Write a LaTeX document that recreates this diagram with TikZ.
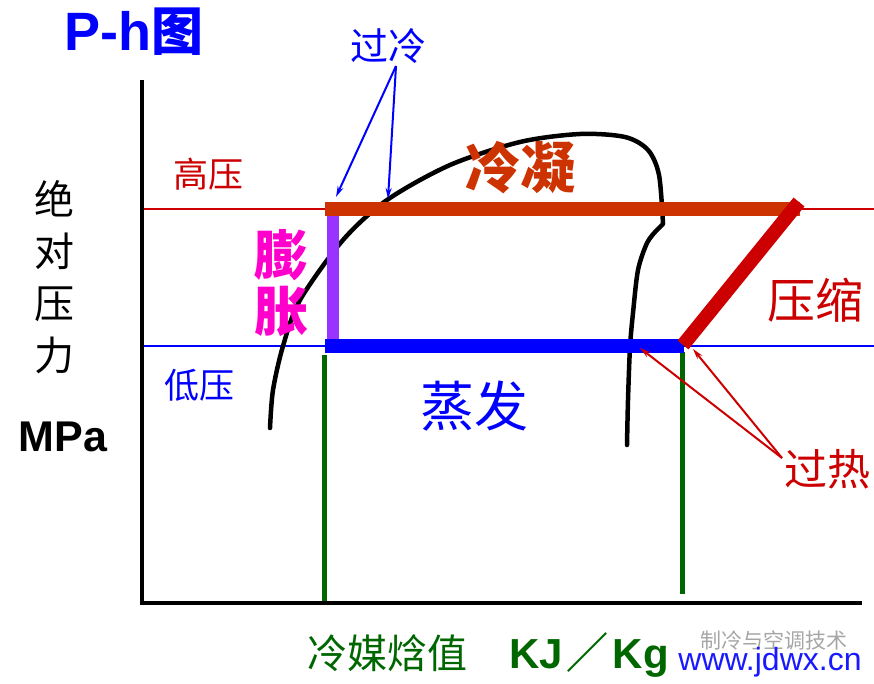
\documentclass[tikz,border=0pt]{standalone}
\usepackage{fontspec}
\setmainfont{Noto Sans CJK SC}
\newfontfamily\lat{Liberation Sans}
\usetikzlibrary{arrows.meta}
\definecolor{hired}{HTML}{CC0000}
\definecolor{condor}{HTML}{CC3300}
\definecolor{expur}{HTML}{9933FF}
\definecolor{expmag}{HTML}{FF00CC}
\definecolor{evblue}{HTML}{0000FF}
\definecolor{enth}{HTML}{006600}
\tikzset{
  axis/.style={line width=4pt},
  pline/.style={line width=2pt},
  bar/.style={line width=14pt},
  dome/.style={line width=4.5pt,line cap=round,line join=round},
  pointer/.style={line width=2pt,-{Stealth[length=11pt,width=6pt]}},
}
\begin{document}
\begin{tikzpicture}[x=1pt,y=-1pt]
\useasboundingbox (0,0) rectangle (874,684);

        \coordinate (o)  at (142,603);
        \coordinate (yt) at (142,80);
        \coordinate (xe) at (862,603);
        \coordinate (hl) at (142,209);
        \coordinate (hr) at (874,209);
        \coordinate (ll) at (142,346);
        \coordinate (lr) at (874,346);
        \coordinate (1)  at (325,209);
        \coordinate (2)  at (800,209);
        \coordinate (3)  at (333,216);
        \coordinate (4)  at (333,340);
        \coordinate (5)  at (325,346);
        \coordinate (6)  at (684,346);
        \coordinate (7)  at (683,345);
        \coordinate (8)  at (799,202);
        \coordinate (9)  at (324,355);
        \coordinate (10) at (324,603);
        \coordinate (11) at (682,352);
        \coordinate (12) at (682,594);
        \coordinate (sc) at (396,66);
        \coordinate (sc1) at (336,197);
        \coordinate (sc2) at (388,199);
        \coordinate (sh) at (782,458);
        \coordinate (sh1) at (640,348);
        \coordinate (sh2) at (693,349);

        \draw[pline,hired] (hl) -- (hr);
        \draw[pline,evblue] (ll) -- (lr);

        \draw[dome] plot[smooth] coordinates {(270,428) (273,390) (283,346) (300,300)
          (343,240) (387,200) (450,165) (520,142) (580,134) (625,137) (648,150)
          (659,175) (663,224)}
          -- plot[smooth] coordinates {(656,231) (647,243) (638,270) (633,313)
          (630,347) (628,400) (627,445)};

        \draw[line width=5pt,enth] (9) -- (10);
        \draw[line width=5pt,enth] (11) -- (12);
        \draw[bar,condor] (1) -- (2);
        \draw[line width=12pt,expur] (3) -- (4);
        \draw[bar,evblue] (5) -- (6);
        \draw[bar,hired] (7) -- (8);

        \draw[axis] (yt) -- (o) -- (xe);

        \draw[pointer,evblue] (sc) -- (sc1);
        \draw[pointer,evblue] (sc) -- (sc2);
        \draw[pointer,hired] (sh) -- (sh1);
        \draw[pointer,hired] (sh) -- (sh2);

        \begin{scope}[every node/.style={inner sep=0pt}]
          \node[evblue] (t)  at (134,32) {{\lat\bfseries\fontsize{54}{54}\selectfont P-h}{\bfseries\fontsize{52}{52}\selectfont 图}};
          \node[evblue,font=\fontsize{38}{38}\selectfont] (a) at (388,46) {过冷};
          \node[hired,font=\fontsize{35}{35}\selectfont] (b) at (208,174) {高压};
          \node[evblue,font=\fontsize{35}{35}\selectfont] (c) at (199,385) {低压};
          \node[condor,font=\bfseries\fontsize{55}{55}\selectfont] (d) at (520,168) {冷凝};
          \node[expmag,font=\bfseries\fontsize{54}{54}\selectfont] (e) at (281,255) {膨};
          \node[expmag,font=\bfseries\fontsize{54}{54}\selectfont] (f) at (281,311) {胀};
          \node[hired,font=\fontsize{48}{48}\selectfont] (g) at (815,300) {压缩};
          \node[evblue,font=\fontsize{54}{54}\selectfont] (h) at (474,406) {蒸发};
          \node[hired,font=\fontsize{43}{43}\selectfont] (i) at (827,469) {过热};
          \node[font=\fontsize{40}{40}\selectfont] (j) at (54,199) {绝};
          \node[font=\fontsize{40}{40}\selectfont] (k) at (54,251) {对};
          \node[font=\fontsize{40}{40}\selectfont] (l) at (54,304) {压};
          \node[font=\fontsize{40}{40}\selectfont] (m) at (54,355) {力};
          \node[font=\lat\bfseries\fontsize{43}{43}\selectfont] (n) at (63,437) {MPa};
          \node[enth,anchor=west] (p) at (307,655) {{\fontsize{40}{40}\selectfont 冷媒焓值}\hspace{42pt}{\lat\bfseries\fontsize{42}{42}\selectfont KJ\hspace{4pt}}{\bfseries\fontsize{42}{42}\selectfont ／}{\lat\bfseries\fontsize{42}{42}\selectfont\hspace{4pt}Kg}};
          \node[black!35,font=\fontsize{21}{21}\selectfont] (q) at (774,640) {制冷与空调技术};
          \node[evblue!90,font=\lat\fontsize{32}{32}\selectfont] (r) at (770,662) {www.jdwx.cn};
        \end{scope}

      \end{tikzpicture}
\end{document}
